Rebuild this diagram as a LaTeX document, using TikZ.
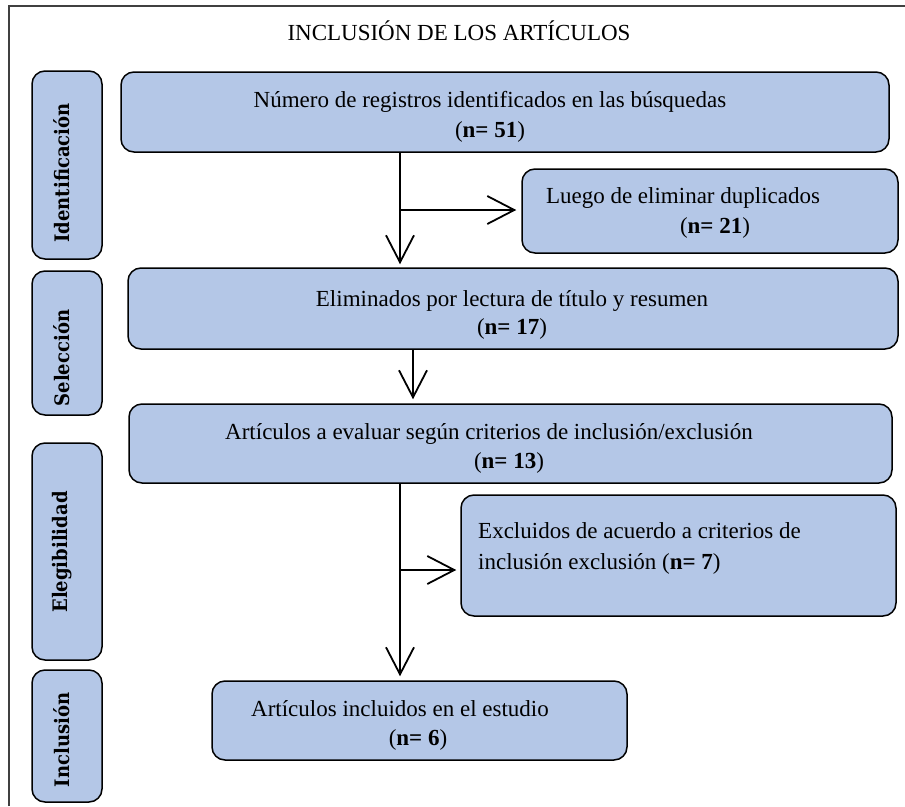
\documentclass[tikz,border=0pt]{standalone}
\usepackage{fontspec}
\setmainfont{Liberation Serif}
\newfontfamily\labfont{DejaVu Serif}[FakeStretch=0.9]
\usetikzlibrary{arrows.meta}
\definecolor{boxblue}{HTML}{B4C7E7}
\definecolor{framegray}{HTML}{404040}
\begin{document}
\begin{tikzpicture}[x=1pt,y=-1pt,
  box/.style={draw=black, line width=1.5pt, fill=boxblue, rounded corners=13pt, inner sep=0pt},
  txt/.style={anchor=base, inner sep=0pt, font=\fontsize{23}{27}\selectfont},
  txtl/.style={anchor=base west, inner sep=0pt, font=\fontsize{23}{27}\selectfont},
  lab/.style={rotate=90, inner sep=0pt, font=\labfont\bfseries\fontsize{20}{23}\selectfont},
  arr/.style={line width=1.8pt, -{Straight Barb[length=27pt,width=28pt,line width=1.8pt]}},
]
\useasboundingbox (0,0) rectangle (905,806);
% frame
\coordinate (fa) at (9,806);
\coordinate (fb) at (9,6);
\coordinate (fc) at (905,6);
\draw[framegray, line width=1.5pt] (fa) -- (fb) -- (fc);
% title
\node[txt] (title) at (459,40) {INCLUSIÓN DE LOS ARTÍCULOS};
% side labels
\node[box, minimum width=70pt, minimum height=188pt] (l1) at (67,165) {};
\node[box, minimum width=70pt, minimum height=144pt] (l2) at (67,343) {};
\node[box, minimum width=70pt, minimum height=217pt] (l3) at (67,551.5) {};
\node[box, minimum width=70pt, minimum height=132pt] (l4) at (67,736) {};
\node[lab] (t1) at (62,173) {Identificación};
\node[lab] (t2) at (62,358) {Selección};
\node[lab] (t3) at (62,552) {Elegibilidad};
\node[lab] (t4) at (62,740) {Inclusión};
% main boxes
\node[box, minimum width=768pt, minimum height=80pt] (b1) at (505,112) {};
\node[box, minimum width=376pt, minimum height=84pt] (b2) at (710,211) {};
\node[box, minimum width=770pt, minimum height=81pt] (b3) at (513,308.5) {};
\node[box, minimum width=763pt, minimum height=79pt] (b4) at (510.5,443.5) {};
\node[box, minimum width=435pt, minimum height=121pt] (b5) at (678.5,555.5) {};
\node[box, minimum width=415pt, minimum height=79pt] (b6) at (419.5,720.5) {};
% texts
\node[txt] (b1a) at (490,107) {Número de registros identificados en las búsquedas};
\node[txt] (b1b) at (490,137) {(\textbf{n= 51})};
\node[txt] (b2a) at (683,203) {Luego de eliminar duplicados};
\node[txt] (b2b) at (715,233) {(\textbf{n= 21})};
\node[txt] (b3a) at (512,306) {Eliminados por lectura de título y resumen};
\node[txt] (b3b) at (512,334) {(\textbf{n= 17})};
\node[txt] (b4a) at (489,439) {Artículos a evaluar según criterios de inclusión/exclusión};
\node[txt] (b4b) at (509,468) {(\textbf{n= 13})};
\node[txtl] (b5a) at (478,538) {Excluidos de acuerdo a criterios de};
\node[txtl] (b5b) at (478,569) {inclusión exclusión (\textbf{n= 7})};
\node[txt] (b6a) at (400,716) {Artículos incluidos en el estudio};
\node[txt] (b6b) at (418,745) {(\textbf{n= 6})};
% connectors
\coordinate (xa) at (400,0);
\coordinate (xb) at (413,0);
\coordinate (j1) at (400,210);
\coordinate (j2) at (400,570);
\draw[arr, shorten >=3pt] (b1.south -| xa) -- (b3.north -| xa);
\draw[arr, shorten >=5pt] (j1) -- (j1 -| b2.west);
\draw[arr, shorten >=4pt] (b3.south -| xb) -- (b4.north -| xb);
\draw[arr, shorten >=4pt] (b4.south -| xa) -- (b6.north -| xa);
\draw[arr, shorten >=4pt] (j2) -- (j2 -| b5.west);
\end{tikzpicture}
\end{document}
